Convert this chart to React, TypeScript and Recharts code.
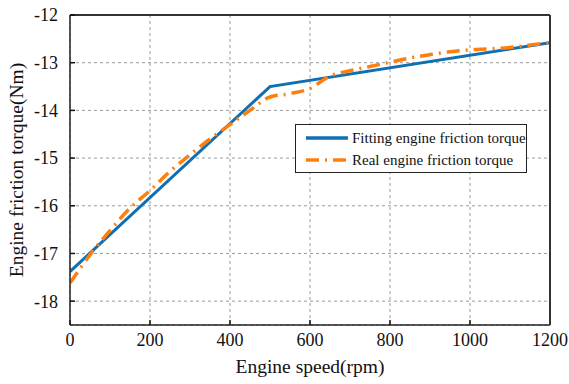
import React from 'react';
import {
  LineChart,
  Line,
  XAxis,
  YAxis,
  CartesianGrid,
  Legend,
  Label,
} from 'recharts';

// fitted piecewise-linear friction torque
const fitSpeed = [0, 500, 1200];
const fitTorque = [-17.38, -13.5, -12.58];

// measured friction torque
const realSpeed = [0, 60, 100, 150, 200, 250, 300, 350, 400, 450, 500, 550, 600, 650, 700, 750, 800, 850, 900, 950, 1000, 1050, 1100, 1150, 1200];
const realTorque = [-17.62, -16.92, -16.52, -16.05, -15.68, -15.28, -14.93, -14.6, -14.3, -14.0, -13.72, -13.65, -13.54, -13.28, -13.17, -13.08, -12.99, -12.9, -12.83, -12.77, -12.73, -12.71, -12.68, -12.63, -12.58];

const xTicks = [0, 200, 400, 600, 800, 1000, 1200];
const yTicks = [-18, -17, -16, -15, -14, -13, -12];

const fitData = fitSpeed.map((s, i) => ({ speed: s, torque: fitTorque[i] }));
const realData = realSpeed.map((s, i) => ({ speed: s, torque: realTorque[i] }));

const BLUE = '#0f6fb3';
const ORANGE = '#ff7f0e';
const FONT = '"Liberation Serif", "Times New Roman", serif';
const REAL_DASH = '13 6 2 6';

function LegendBox(props: any) {
  const items = props.payload || [];
  return (
    <div
      style={{
        border: '1px solid #222',
        background: '#fff',
        padding: '2px 0 1px 10px',
        fontFamily: FONT,
        fontSize: 15,
        color: '#111',
        boxSizing: 'border-box',
        whiteSpace: 'nowrap',
      }}
    >
      {items.map((it: any) => (
        <div key={it.value} style={{ display: 'flex', alignItems: 'center', height: 22 }}>
          <svg width={46} height={8}>
            <line
              x1={0}
              y1={4}
              x2={42}
              y2={4}
              stroke={it.color}
              strokeWidth={3.5}
              strokeDasharray={it.value.startsWith('Real') ? REAL_DASH : undefined}
            />
          </svg>
          <span>{it.value}</span>
        </div>
      ))}
    </div>
  );
}

export default function App() {
  return (
    <div style={{ position: 'absolute', left: 0, top: 0, background: '#fff' }}>
      <style>{`.recharts-wrapper text { font-family: ${FONT}; }`}</style>
      <LineChart
        width={569}
        height={384}
        margin={{ top: 14, right: 18, left: 0, bottom: 29 }}
        style={{ fontFamily: FONT }}
      >
        <CartesianGrid stroke="#9a9a9a" strokeDasharray="3 3" />
        <XAxis
          dataKey="speed"
          type="number"
          domain={[0, 1200]}
          ticks={xTicks}
          allowDataOverflow
          height={30}
          tickSize={-5}
          tickMargin={13}
          tickLine={{ stroke: '#111', strokeWidth: 1.5 }}
          axisLine={{ stroke: '#222', strokeWidth: 1.5 }}
          tick={{ fill: '#111', fontSize: 18, fontFamily: FONT }}
        >
          <Label
            value="Engine speed(rpm)"
            position="bottom"
            offset={4}
            style={{ fill: '#111', fontSize: 19.5, fontFamily: FONT }}
          />
        </XAxis>
        <XAxis
          xAxisId="top"
          orientation="top"
          type="number"
          domain={[0, 1200]}
          height={1}
          tick={false}
          tickLine={false}
          axisLine={{ stroke: '#333', strokeWidth: 2 }}
        />
        <YAxis
          type="number"
          domain={[-18.5, -12]}
          ticks={yTicks}
          allowDataOverflow
          width={70}
          tickSize={-5}
          tickMargin={17}
          tickLine={{ stroke: '#111', strokeWidth: 1.5 }}
          axisLine={{ stroke: '#222', strokeWidth: 1.5 }}
          tick={{ fill: '#111', fontSize: 18, fontFamily: FONT }}
        >
          <Label
            value="Engine friction torque(Nm)"
            angle={-90}
            position="insideLeft"
            offset={16}
            style={{ fill: '#111', fontSize: 19.5, fontFamily: FONT, textAnchor: 'middle' }}
          />
        </YAxis>
        <YAxis
          yAxisId="right"
          orientation="right"
          type="number"
          domain={[-18.5, -12]}
          width={1}
          tick={false}
          tickLine={false}
          axisLine={{ stroke: '#333', strokeWidth: 2 }}
        />
        <Legend
          content={<LegendBox />}
          layout="vertical"
          align="center"
          verticalAlign="middle"
          wrapperStyle={{ left: 295, top: 124, width: 232 }}
        />
        <Line
          data={fitData}
          dataKey="torque"
          name="Fitting engine friction torque"
          type="linear"
          stroke={BLUE}
          strokeWidth={3}
          dot={false}
          isAnimationActive={false}
        />
        <Line
          data={realData}
          dataKey="torque"
          name="Real engine friction torque"
          type="monotone"
          stroke={ORANGE}
          strokeWidth={3.5}
          strokeDasharray={REAL_DASH}
          dot={false}
          isAnimationActive={false}
        />
      </LineChart>
    </div>
  );
}
